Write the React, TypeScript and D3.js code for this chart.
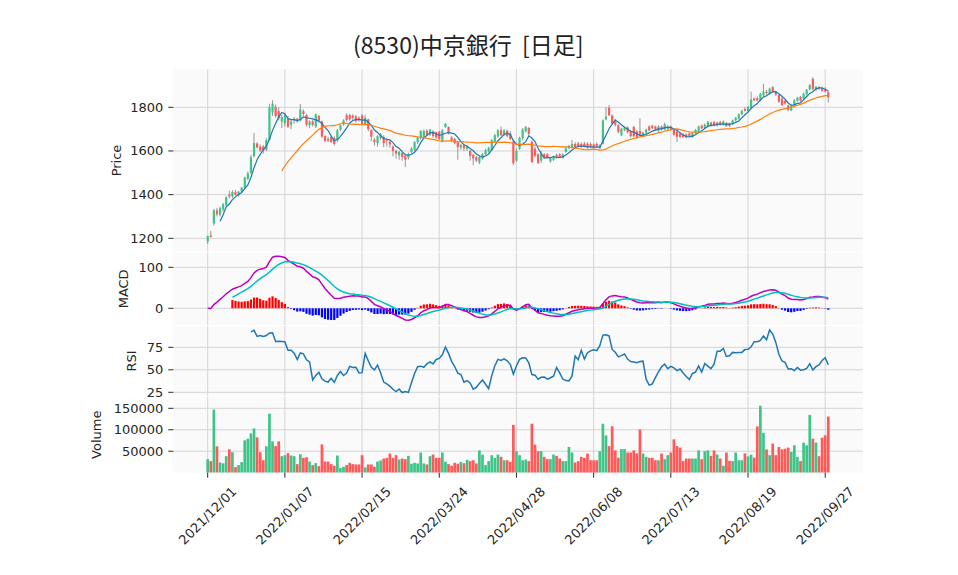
import React, { useEffect, useRef } from 'react'
import * as d3 from 'd3'

const title = '(8530)中京銀行  [日足]'
const tickLabels = ['2021/12/01', '2022/01/07', '2022/02/15', '2022/03/24', '2022/04/28', '2022/06/08', '2022/07/13', '2022/08/19', '2022/09/27']
const tickEvery = 25
const priceTicks = [1200, 1400, 1600, 1800]
const macdTicks = [0, 100]
const rsiTicks = [25, 50, 75]
const volumeTicks = [50000, 100000, 150000]

const opens = [
  1186, 1212, 1268, 1328, 1308, 1332, 1352, 1400, 1392, 1412,
  1398, 1414, 1432, 1472, 1500, 1576, 1634, 1620, 1620, 1606,
  1650, 1776, 1802, 1782, 1735, 1728, 1750, 1720, 1740, 1748,
  1740, 1782, 1765, 1718, 1735, 1712, 1760, 1735, 1668, 1655,
  1664, 1660, 1650, 1698, 1722, 1764, 1765, 1762, 1758, 1752,
  1762, 1722, 1745, 1696, 1652, 1636, 1660, 1664, 1650, 1642,
  1620, 1600, 1580, 1590, 1578, 1570, 1596, 1604, 1640, 1658,
  1665, 1692, 1675, 1690, 1685, 1688, 1642, 1710, 1710, 1662,
  1655, 1640, 1616, 1626, 1610, 1600, 1582, 1572, 1548, 1565,
  1586, 1598, 1604, 1642, 1666, 1695, 1674, 1692, 1680, 1642,
  1556, 1610, 1658, 1690, 1705, 1642, 1610, 1585, 1555, 1585,
  1585, 1552, 1560, 1582, 1585, 1568, 1596, 1612, 1618, 1632,
  1635, 1632, 1634, 1634, 1632, 1630, 1632, 1612, 1634, 1745,
  1798, 1762, 1735, 1718, 1672, 1695, 1708, 1690, 1710, 1690,
  1692, 1668, 1684, 1712, 1716, 1712, 1690, 1712, 1698, 1700,
  1712, 1698, 1688, 1680, 1676, 1676, 1680, 1664, 1682, 1690,
  1716, 1705, 1712, 1730, 1732, 1716, 1732, 1720, 1728, 1726,
  1722, 1740, 1748, 1768, 1792, 1782, 1796, 1840, 1842, 1832,
  1855, 1872, 1862, 1892, 1872, 1856, 1840, 1830, 1808, 1786,
  1808, 1830, 1848, 1840, 1860, 1882, 1930, 1882, 1892, 1890,
  1880, 1868,
]
const highs = [
  1212, 1234, 1335, 1338, 1345, 1362, 1392, 1418, 1420, 1422,
  1416, 1436, 1482, 1506, 1582, 1682, 1640, 1630, 1628, 1660,
  1816, 1832, 1812, 1800, 1765, 1775, 1760, 1745, 1755, 1752,
  1815, 1790, 1770, 1740, 1742, 1772, 1765, 1740, 1672, 1665,
  1670, 1668, 1700, 1722, 1745, 1772, 1770, 1768, 1765, 1758,
  1770, 1765, 1748, 1700, 1660, 1672, 1682, 1672, 1660, 1650,
  1626, 1606, 1600, 1596, 1582, 1592, 1618, 1645, 1665, 1695,
  1698, 1700, 1700, 1695, 1690, 1692, 1700, 1728, 1712, 1668,
  1660, 1645, 1632, 1630, 1624, 1606, 1588, 1578, 1578, 1590,
  1610, 1620, 1655, 1678, 1700, 1712, 1700, 1698, 1692, 1648,
  1610, 1665, 1705, 1715, 1710, 1648, 1620, 1590, 1600, 1590,
  1590, 1570, 1578, 1588, 1590, 1590, 1618, 1628, 1650, 1640,
  1642, 1640, 1642, 1640, 1640, 1635, 1640, 1630, 1745, 1800,
  1810, 1768, 1745, 1722, 1706, 1712, 1712, 1695, 1715, 1695,
  1750, 1688, 1702, 1718, 1720, 1716, 1718, 1716, 1730, 1718,
  1716, 1702, 1692, 1684, 1680, 1680, 1684, 1686, 1700, 1716,
  1720, 1726, 1738, 1734, 1738, 1734, 1738, 1740, 1732, 1730,
  1744, 1756, 1772, 1788, 1800, 1806, 1872, 1845, 1850, 1866,
  1908, 1880, 1890, 1898, 1876, 1860, 1846, 1836, 1812, 1812,
  1838, 1848, 1852, 1868, 1884, 1906, 1938, 1898, 1898, 1894,
  1892, 1874,
]
const lows = [
  1174, 1204, 1258, 1300, 1300, 1322, 1345, 1382, 1385, 1395,
  1390, 1408, 1426, 1466, 1494, 1570, 1612, 1596, 1588, 1600,
  1646, 1760, 1752, 1740, 1705, 1712, 1705, 1700, 1725, 1730,
  1735, 1760, 1712, 1705, 1712, 1705, 1730, 1660, 1640, 1640,
  1638, 1625, 1640, 1690, 1715, 1735, 1738, 1740, 1730, 1735,
  1718, 1718, 1690, 1645, 1625, 1620, 1652, 1618, 1620, 1615,
  1575, 1565, 1560, 1555, 1527, 1560, 1590, 1600, 1632, 1652,
  1660, 1668, 1668, 1660, 1655, 1650, 1640, 1705, 1676, 1640,
  1630, 1560, 1605, 1600, 1600, 1555, 1535, 1550, 1540, 1560,
  1580, 1592, 1600, 1638, 1660, 1668, 1668, 1662, 1650, 1535,
  1550, 1605, 1650, 1685, 1670, 1545, 1570, 1540, 1545, 1565,
  1565, 1545, 1555, 1565, 1568, 1565, 1592, 1608, 1612, 1615,
  1620, 1615, 1616, 1610, 1614, 1610, 1615, 1608, 1630, 1740,
  1760, 1722, 1712, 1680, 1668, 1690, 1680, 1662, 1662, 1655,
  1670, 1664, 1680, 1690, 1700, 1694, 1688, 1694, 1694, 1696,
  1692, 1670, 1641, 1660, 1660, 1658, 1664, 1660, 1678, 1686,
  1700, 1702, 1708, 1712, 1712, 1712, 1716, 1716, 1710, 1710,
  1718, 1736, 1744, 1764, 1780, 1778, 1792, 1828, 1826, 1828,
  1850, 1858, 1858, 1870, 1852, 1820, 1806, 1812, 1782, 1782,
  1804, 1826, 1826, 1836, 1856, 1878, 1876, 1876, 1880, 1872,
  1868, 1822,
]
const closes = [
  1210, 1206, 1328, 1310, 1338, 1356, 1388, 1392, 1412, 1400,
  1414, 1432, 1478, 1498, 1570, 1636, 1616, 1602, 1604, 1650,
  1800, 1816, 1760, 1750, 1756, 1765, 1712, 1735, 1748, 1735,
  1790, 1770, 1720, 1735, 1720, 1768, 1740, 1666, 1646, 1648,
  1640, 1632, 1695, 1718, 1740, 1742, 1745, 1752, 1738, 1748,
  1722, 1752, 1700, 1665, 1640, 1668, 1676, 1636, 1648, 1630,
  1600, 1588, 1596, 1572, 1560, 1586, 1612, 1641, 1660, 1692,
  1692, 1672, 1698, 1668, 1662, 1655, 1695, 1725, 1682, 1650,
  1636, 1618, 1628, 1612, 1620, 1578, 1566, 1556, 1572, 1586,
  1604, 1614, 1649, 1672, 1695, 1672, 1694, 1668, 1655, 1544,
  1600, 1660, 1698, 1710, 1678, 1550, 1578, 1545, 1590, 1572,
  1570, 1566, 1574, 1568, 1572, 1584, 1612, 1622, 1632, 1618,
  1622, 1618, 1620, 1615, 1618, 1616, 1620, 1626, 1740, 1758,
  1764, 1726, 1720, 1688, 1702, 1708, 1686, 1668, 1668, 1662,
  1675, 1684, 1698, 1694, 1704, 1698, 1712, 1698, 1722, 1712,
  1698, 1675, 1665, 1665, 1664, 1662, 1668, 1682, 1696, 1712,
  1704, 1720, 1734, 1716, 1716, 1730, 1720, 1735, 1714, 1714,
  1740, 1752, 1768, 1784, 1784, 1802, 1836, 1832, 1832, 1862,
  1872, 1865, 1885, 1875, 1858, 1826, 1810, 1818, 1788, 1808,
  1832, 1844, 1830, 1862, 1880, 1902, 1884, 1894, 1886, 1876,
  1872, 1846,
]
const volumes = [
  31500, 27000, 147000, 61500, 24000, 22000, 38500, 54600, 47700, 13000,
  17700, 24600, 75400, 79200, 91500, 103000, 82300, 47700, 29200, 61500,
  137600, 73000, 62000, 73000, 38500, 40800, 45400, 40000, 38500, 20000,
  43000, 34600, 36100, 26000, 17700, 22300, 15400, 66000, 26000, 26000,
  20000, 16200, 40000, 10800, 13800, 17700, 23000, 20000, 19200, 19200,
  40800, 12300, 19200, 19200, 13800, 26000, 28500, 33000, 34600, 44600,
  34600, 40800, 30800, 33000, 31500, 39200, 20800, 23000, 21500, 46900,
  21500, 19200, 38500, 42300, 34600, 34600, 47000, 25400, 20000, 16200,
  23000, 20800, 25000, 22000, 30000, 27000, 29000, 21500, 52000, 42000,
  17700, 27000, 40800, 34600, 42300, 37000, 29000, 29000, 25400, 111500,
  50000, 40800, 29000, 30800, 27000, 114000, 65400, 50000, 50000, 37000,
  31500, 31500, 42300, 39200, 33000, 27000, 27000, 60000, 47000, 23800,
  27000, 37000, 34600, 44600, 29000, 29000, 29000, 50000, 114000, 87000,
  62000, 108000, 52000, 35000, 55000, 55000, 47000, 47000, 52000, 45000,
  100700, 44600, 37000, 34600, 34600, 29000, 29000, 44600, 31500, 40800,
  47000, 77700, 62000, 58500, 27000, 33000, 33000, 33000, 33000, 52000,
  31500, 50000, 52000, 39200, 52000, 42300, 33000, 16000, 47000, 27700,
  27000, 47000, 29000, 29000, 45000, 38000, 42000, 35000, 107700, 156000,
  93000, 54000, 40800, 67700, 40800, 60000, 54600, 56000, 58400, 48400,
  63800, 37000, 27000, 70000, 63800, 134600, 79200, 70000, 38500, 81500,
  87000, 130700,
]

const UP = '#3fc488'
const DOWN = '#ff5a5a'
const GRID = '#d4d4d4'
const FONT = '"DejaVu Sans", sans-serif'

// 移動平均
function rolling(arr: number[], w: number): (number | null)[] {
  return arr.map((_, i) => (i < w - 1 ? null : (d3.mean(arr.slice(i - w + 1, i + 1)) as number)))
}

function ema(arr: number[], span: number): number[] {
  const a = 2 / (span + 1)
  const out: number[] = []
  arr.forEach((v, i) => out.push(i === 0 ? v : a * v + (1 - a) * out[i - 1]))
  return out
}

function rsiOf(arr: number[], n: number): (number | null)[] {
  return arr.map((_, i) => {
    if (i < n) return null
    let g = 0
    let l = 0
    for (let j = i - n + 1; j <= i; j++) {
      const d = arr[j] - arr[j - 1]
      if (d > 0) g += d
      else l -= d
    }
    return g + l === 0 ? 50 : (100 * g) / (g + l)
  })
}

function App() {
  const ref = useRef<SVGSVGElement>(null)
  useEffect(() => {
    drawChart(ref.current as SVGSVGElement)
  }, [])
  return (
    <svg ref={ref} width={958} height={575} style={{ position: 'absolute', left: 0, top: 0, background: '#fff' }}></svg>
  )
}

function drawChart(el: SVGSVGElement) {
  const svg = d3.select(el)
  svg.selectAll('*').remove()

  const left = 173.3
  const right = 862.7
  const x = d3.scaleLinear().domain([0, 200]).range([207.7, 825.2])

  const panels = [
    { key: 'price', top: 69.3, bottom: 251.7, label: 'Price', labelX: 116, ticks: priceTicks,
      y: d3.scaleLinear().domain([1200, 1800]).range([238.3, 107.3]) },
    { key: 'macd', top: 252.7, bottom: 325, label: 'MACD', labelX: 123, ticks: macdTicks,
      y: d3.scaleLinear().domain([0, 100]).range([308.3, 267.3]) },
    { key: 'rsi', top: 326, bottom: 395.8, label: 'RSI', labelX: 131, ticks: rsiTicks,
      y: d3.scaleLinear().domain([25, 75]).range([392.3, 347.3]) },
    { key: 'vol', top: 396.8, bottom: 472.7, label: 'Volume', labelX: 96, ticks: volumeTicks,
      y: d3.scaleLinear().domain([0, 150000]).range([472.7, 408.3]) },
  ]

  const xTicks = tickLabels.map((_, i) => i * tickEvery)
  const defs = svg.append('defs')
  const layers: Record<string, d3.Selection<SVGGElement, unknown, null, undefined>> = {}

  panels.forEach((p) => {
    defs.append('clipPath').attr('id', 'clip-' + p.key)
      .append('rect').attr('x', left).attr('y', p.top).attr('width', right - left).attr('height', p.bottom - p.top)
    svg.append('rect')
      .attr('x', left).attr('y', p.top).attr('width', right - left).attr('height', p.bottom - p.top)
      .attr('fill', '#fafafa')
    const grid = svg.append('g').attr('stroke', GRID).attr('stroke-width', 1)
    p.ticks.forEach((t) => {
      grid.append('line').attr('x1', left).attr('x2', right).attr('y1', p.y(t)).attr('y2', p.y(t))
    })
    xTicks.forEach((t) => {
      grid.append('line').attr('x1', x(t)).attr('x2', x(t)).attr('y1', p.top).attr('y2', p.bottom)
    })
    // y軸
    const ax = svg.append('g').attr('font-family', FONT).attr('font-size', 13).attr('fill', '#262626')
    p.ticks.forEach((t) => {
      ax.append('line').attr('x1', left - 5).attr('x2', left).attr('y1', p.y(t)).attr('y2', p.y(t))
        .attr('stroke', '#262626').attr('stroke-width', 1)
      ax.append('text').attr('x', left - 10).attr('y', p.y(t)).attr('text-anchor', 'end')
        .attr('dominant-baseline', 'central').text(t)
    })
    const cy = (p.top + p.bottom) / 2
    ax.append('text').attr('transform', `translate(${p.labelX},${cy}) rotate(-90)`)
      .attr('text-anchor', 'middle').attr('dominant-baseline', 'central').text(p.label)
    layers[p.key] = svg.append('g').attr('clip-path', `url(#clip-${p.key})`)
  })

  const idx = closes.map((_, i) => i)
  const isUp = (i: number) => closes[i] >= opens[i]

  // ローソク足
  const yP = panels[0].y
  const g0 = layers.price
  g0.selectAll('line.wick').data(idx).enter().append('line')
    .attr('x1', (i) => x(i)).attr('x2', (i) => x(i))
    .attr('y1', (i) => yP(highs[i])).attr('y2', (i) => yP(lows[i]))
    .attr('stroke', '#8a8a8a').attr('stroke-width', 0.9)
  const bw = 2.2
  g0.selectAll('rect.body').data(idx).enter().append('rect')
    .attr('x', (i) => x(i) - bw / 2)
    .attr('y', (i) => yP(Math.max(opens[i], closes[i])))
    .attr('width', bw)
    .attr('height', (i) => Math.max(0.8, Math.abs(yP(opens[i]) - yP(closes[i]))))
    .attr('fill', (i) => (isUp(i) ? UP : DOWN))

  const ma5 = rolling(closes, 5)
  const ma25 = rolling(closes, 25)
  const lineOf = (y: d3.ScaleLinear<number, number>) =>
    d3.line<number | null>().defined((d) => d != null).x((_, i) => x(i)).y((d) => y(d as number))
  g0.append('path').attr('d', lineOf(yP)(ma5)).attr('fill', 'none').attr('stroke', '#1f77b4').attr('stroke-width', 1.2)
  g0.append('path').attr('d', lineOf(yP)(ma25)).attr('fill', 'none').attr('stroke', '#ff7f0e').attr('stroke-width', 1.2)

  // MACD
  const e12 = ema(closes, 12)
  const e26 = ema(closes, 26)
  const macd = e12.map((v, i) => v - e26[i])
  const sig = ema(macd, 9)
  const hist = macd.map((v, i) => v - sig[i])
  const yM = panels[1].y
  const g1 = layers.macd
  const hIdx = idx.filter((i) => i >= 8)
  g1.selectAll('rect.hist').data(hIdx).enter().append('rect')
    .attr('x', (i) => x(i) - 1.1)
    .attr('y', (i) => Math.min(yM(0), yM(hist[i])))
    .attr('width', 2.2)
    .attr('height', (i) => Math.abs(yM(hist[i]) - yM(0)))
    .attr('fill', (i) => (hist[i] >= 0 ? '#ff0000' : '#0000ff'))
  g1.append('path').attr('d', lineOf(yM)(macd)).attr('fill', 'none').attr('stroke', '#bf00bf').attr('stroke-width', 1.5)
  g1.append('path').attr('d', lineOf(yM)(sig.map((v, i) => (i >= 8 ? v : null))))
    .attr('fill', 'none').attr('stroke', '#00bfbf').attr('stroke-width', 1.5)

  // RSI
  const rsi = rsiOf(closes, 14)
  layers.rsi.append('path').attr('d', lineOf(panels[2].y)(rsi)).attr('fill', 'none')
    .attr('stroke', '#1f77b4').attr('stroke-width', 1.5)

  // 出来高
  const yV = panels[3].y
  layers.vol.selectAll('rect.vol').data(idx).enter().append('rect')
    .attr('x', (i) => x(i) - 1.35)
    .attr('y', (i) => yV(volumes[i]))
    .attr('width', 2.7)
    .attr('height', (i) => yV(0) - yV(volumes[i]))
    .attr('fill', (i) => (isUp(i) ? UP : DOWN))

  // x軸
  const xa = svg.append('g').attr('font-family', FONT).attr('font-size', 13).attr('fill', '#262626')
  const bottom = panels[3].bottom
  xTicks.forEach((t, k) => {
    xa.append('line').attr('x1', x(t)).attr('x2', x(t)).attr('y1', bottom).attr('y2', bottom + 5)
      .attr('stroke', '#262626').attr('stroke-width', 1)
    const cy = bottom + 43
    xa.append('text').attr('x', x(t)).attr('y', cy)
      .attr('transform', `rotate(-45, ${x(t)}, ${cy})`)
      .attr('text-anchor', 'middle').attr('dominant-baseline', 'central')
      .text(tickLabels[k])
  })

  svg.append('text').attr('x', 468.3).attr('y', 44).attr('text-anchor', 'middle')
    .attr('dominant-baseline', 'central').attr('font-family', '"Noto Sans CJK JP", sans-serif')
    .attr('font-size', 23).attr('fill', '#222').style('white-space', 'pre').text(title)
}

export default App
